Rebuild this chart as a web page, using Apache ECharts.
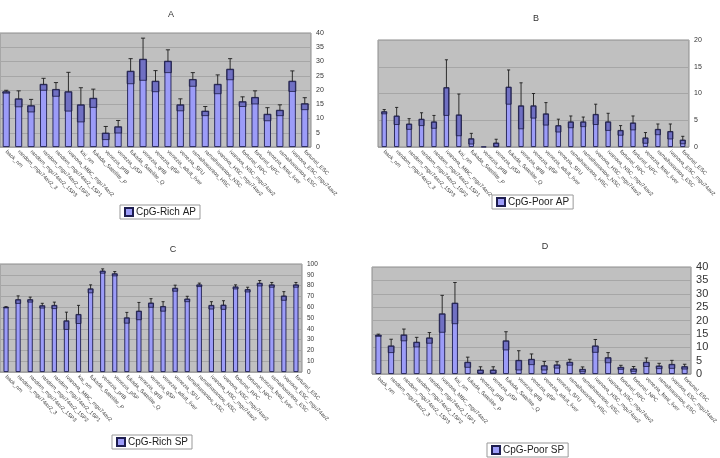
<!DOCTYPE html>
<html><head><meta charset="utf-8">
<script src="https://cdn.jsdelivr.net/npm/echarts@6/dist/echarts.min.js"></script>
<style>html,body{margin:0;padding:0;background:#fff}#c{width:720px;height:458px}</style>
</head><body><div id="c"></div>
<script>
const categories = ["back_nm","random_mgu74av2_3","random_mgu74av2_1SP3","random_mgu74av2_1SP2","random_mgu74av2_1SP1","ivanova_MBC_mgu74av2","kai_nm","fukada_Satellite_P","venezia_prtB","venezia_pSP","fukada_Satellite_Q","venezia_qrtB","venezia_qSP","venezia_adult_liver","venezia_SFU","ramalhosantos_HSC","ramalhosantos_NSC","ivanova_HSC_mgu74av2","ivanova_NSC_mgu74av2","fortunel_RPC","fortunel_NPC","venezia_fetal_liver","ramalhosantos_ESC","ivanova_ESC_mgu74av2","fortunel_ESC"];

const richAP = [19.4,16.9,14.5,22,20.2,19.4,14.8,17.1,4.9,7.1,26.6,30.8,23.1,30.1,14.8,23.7,12.6,22,27.3,15.9,17.4,11.5,12.9,23.1,15.2];
const richAPErr = [0.5,2.8,2.2,2.1,2.4,6.8,6,3.2,2.3,2.2,4.4,7.4,3.7,4,2.1,2.4,1.6,3.3,3.7,1.7,2.3,2.3,1.9,3.6,2.1];

const poorAP = [6.6,5.8,4.3,5.2,4.7,11.1,6.0,1.55,0.05,0.75,11.2,7.7,7.7,6.2,4.0,4.7,4.7,6.1,4.7,3.1,4.5,1.7,3.3,2.9,1.3];
const poorAPErr = [0.4,1.6,1.0,1.2,1.2,5.2,3.9,1.0,0,0.7,3.2,4.3,2.3,2.1,1.2,1.1,0.9,1.9,1.6,0.9,1.3,1.0,1.0,1.4,0.7];

const richSP = [60,67,67,61.4,61.7,47.4,53.3,77,93.5,91,50.2,56.4,63.9,60.7,77.6,67.6,80.7,61.7,62,78.8,76.3,82.2,80.7,70.4,80.7];
const richSPErr = [0.5,3.5,2.3,2.2,3,8,8.4,3.7,2,2,5,8,4,4.4,2.8,2.5,1.6,3.4,4,1.9,2.2,2.5,2.2,4,2.2];

const poorSP = [14.5,10.5,14.6,11.9,13.5,22.5,26.5,4.4,1.5,1.5,12.4,5.1,5.5,3.1,3.4,4.4,1.75,10.5,6.1,2.5,1.9,4.4,3,3.6,2.75];
const poorSPErr = [0.4,2.5,2.2,1.8,2,6.9,7.7,1.9,1.2,1.2,3.4,3.6,2,1.6,1.2,1.1,0.9,2.4,1.9,0.75,0.9,1.6,1,1.5,0.9];

const panelTitles = ["A","B","C","D"];
const seriesNames = ["CpG-Rich AP","CpG-Poor AP","CpG-Rich SP","CpG-Poor SP"];
const yMax = [40,20,100,40];
const yStep = [5,5,10,5];

const values = [richAP, poorAP, richSP, poorSP];
const errs = [richAPErr, poorAPErr, richSPErr, poorSPErr];

const grids = [
  {left:-1, top:33, width:312, height:114},
  {left:378, top:40, width:311, height:107},
  {left:-1, top:264, width:303, height:108},
  {left:372, top:267, width:321, height:107}
];
const barFrac = [0.56, 0.42, 0.42, 0.46];
const yFont = [7, 7, 6.5, 11];
const titlePos = [[166,5],[531,9],[168,240],[540,237]];
const legendPos = [[120,205],[492,195],[112,435],[487,443]];

const chart = echarts.init(document.getElementById('c'), null, {renderer:'canvas'});

function makeErr(frac){
  return function(params, api){
    const x = api.value(0), v = api.value(1), e = api.value(2);
    const top = api.coord([x, v]);
    const hi = api.coord([x, v + e]);
    const lo = api.coord([x, Math.max(0, v - e)]);
    const bw = api.size([1, 0])[0] * frac;
    const cap = bw * 0.6;
    const ch = [];
    if (e > 0) {
      ch.push({type:'rect', shape:{x: top[0]-bw/2, y: top[1], width: bw, height: lo[1]-top[1]},
        style:{fill:'rgba(60,60,130,0.45)', stroke:'#1c1c44', lineWidth:0.8}});
      ch.push({type:'line', shape:{x1: top[0], y1: top[1], x2: hi[0], y2: hi[1]}, style:{stroke:'#1c1c1c', lineWidth:0.9}});
      ch.push({type:'line', shape:{x1: hi[0]-cap/2, y1: hi[1], x2: hi[0]+cap/2, y2: hi[1]}, style:{stroke:'#1c1c1c', lineWidth:0.9}});
    }
    return {type:'group', children: ch};
  };
}

const option = {
  backgroundColor:'#ffffff',
  animation:false,
  title: panelTitles.map((t,i)=>({text:t, left:titlePos[i][0], top:titlePos[i][1], textAlign:'center',
    textStyle:{fontSize:9, fontWeight:'normal', color:'#333', fontFamily:'Liberation Sans'}})),
  legend: seriesNames.map((n,i)=>({data:[n], left:legendPos[i][0], top:legendPos[i][1], orient:'horizontal',
    icon:'rect', itemWidth:8, itemHeight:8, itemGap:2, padding:[2,4,2,4],
    borderColor:'#999', borderWidth:1, backgroundColor:'#fff',
    textStyle:{fontSize:10, color:'#222', fontFamily:'Liberation Sans', padding:[0,0,0,-2]}})),
  grid: grids.map(g=>Object.assign({show:true, backgroundColor:'#c0c0c0', borderColor:'#8c8c8c', borderWidth:1, containLabel:false}, g)),
  xAxis: grids.map((g,i)=>({type:'category', gridIndex:i, data:categories,
    axisLine:{show:false}, axisTick:{show:false},
    axisLabel:{interval:0, rotate:-45, fontSize:5.5, color:'#444', margin:4, fontFamily:'Liberation Sans'}})),
  yAxis: grids.map((g,i)=>({type:'value', gridIndex:i, position:'right', min:0, max:yMax[i], interval:yStep[i],
    axisLine:{show:false}, axisTick:{show:false},
    axisLabel:{fontSize:yFont[i], color:'#333', margin:5, fontFamily:'Liberation Sans'},
    splitLine:{show:true, lineStyle:{color:'#a6a6a6', width:1}}})),
  series: []
};

for (let i=0;i<4;i++){
  option.series.push({name:seriesNames[i], type:'bar', xAxisIndex:i, yAxisIndex:i, data:values[i],
    barWidth:(barFrac[i]*100)+'%',
    itemStyle:{color:'#9c9cf8', borderColor:'#1e1e50', borderWidth:0.9}});
  option.series.push({name:seriesNames[i]+' err', type:'custom', xAxisIndex:i, yAxisIndex:i,
    renderItem: makeErr(barFrac[i]), z:5,
    data: values[i].map((v,k)=>[k, v, errs[i][k]])});
}
chart.setOption(option);
</script></body></html>
